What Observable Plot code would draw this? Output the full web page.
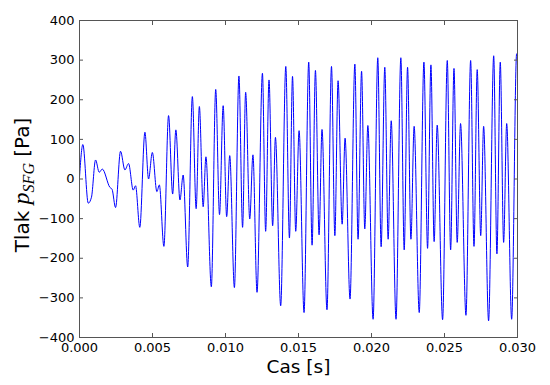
<!DOCTYPE html>
<html>
<head>
<meta charset="utf-8">
<script src="https://cdn.jsdelivr.net/npm/d3@7"></script>
<script src="https://cdn.jsdelivr.net/npm/@observablehq/plot@0.6"></script>
<style>
  html, body { margin: 0; padding: 0; background: #ffffff; }
  #chart svg { font-family: "DejaVu Sans", sans-serif; }
</style>
</head>
<body>
<div id="chart"></div>
<script>
// Time (s) of each turning point of the signal
const time = [
  0.00000, 0.00023, 0.00060, 0.00082, 0.00110, 0.00135, 0.00156, 0.00208, 0.00223, 0.00247,
  0.00281, 0.00311, 0.00336, 0.00368, 0.00384, 0.00413, 0.00448, 0.00473, 0.00499, 0.00530,
  0.00547, 0.00578, 0.00610, 0.00638, 0.00660, 0.00688, 0.00710, 0.00741, 0.00773, 0.00799,
  0.00821, 0.00847, 0.00866, 0.00903, 0.00933, 0.00959, 0.00984, 0.01008, 0.01029, 0.01061,
  0.01092, 0.01117, 0.01138, 0.01166, 0.01188, 0.01216, 0.01253, 0.01275, 0.01298, 0.01323,
  0.01342, 0.01378, 0.01413, 0.01438, 0.01459, 0.01481, 0.01504, 0.01538, 0.01570, 0.01593,
  0.01616, 0.01641, 0.01661, 0.01695, 0.01726, 0.01749, 0.01771, 0.01799, 0.01819, 0.01853,
  0.01886, 0.01908, 0.01932, 0.01954, 0.01975, 0.02011, 0.02043, 0.02066, 0.02091, 0.02114,
  0.02135, 0.02168, 0.02201, 0.02224, 0.02247, 0.02270, 0.02292, 0.02327, 0.02359, 0.02384,
  0.02407, 0.02429, 0.02450, 0.02487, 0.02519, 0.02542, 0.02565, 0.02587, 0.02610, 0.02647,
  0.02679, 0.02702, 0.02724, 0.02748, 0.02768, 0.02802, 0.02837, 0.02859, 0.02882, 0.02905,
  0.02926, 0.02960, 0.02994, 0.03000
];
// Pressure p_SFG (Pa) at those times
const pressure = [
     4,   87,  -61,  -46,   48,   17,   25,  -21,  -26,  -72,
    70,   23,   39,  -28,  -17, -122,  118,    0,   67,  -32,
   -15, -170,  160,  -38,  124,  -53,   10, -222,  208,  -75,
   183,  -70,   56, -272,  226,  -90,  185,  -95,   59, -274,
   260, -122,  219, -101,   61, -286,  267, -132,  250, -118,
   105, -320,  284, -149,  259, -132,  122, -337,  295, -167,
   274, -141,  125, -330,  284, -143,  248, -114,  103, -303,
   290, -152,  272, -126,  135, -354,  306, -171,  282, -152,
   147, -354,  306, -179,  282, -152,  133, -337,  295, -175,
   288, -158,  136, -355,  299, -179,  279, -160,  140, -344,
   299, -170,  276, -143,  133, -358,  311, -189,  295, -160,
   140, -354,  316,  312
];
const xTicks = [0, 0.005, 0.010, 0.015, 0.020, 0.025, 0.030];
const yTicks = [-400, -300, -200, -100, 0, 100, 200, 300, 400];
const xTitle = "Cas [s]";
const yTitle = ["Tlak ", "p", "SFG", " [Pa]"];

const data = time.map((t, i) => ({ t, p: pressure[i] }));
const fmtX = d3.format(".3f");
const fmtY = d => (d < 0 ? "\u2212" + (-d) : String(d));
const axisColor = "#555";

const chart = Plot.plot({
  width: 550,
  height: 385,
  marginLeft: 79,
  marginRight: 33,
  marginTop: 20,
  marginBottom: 48,
  style: { background: "#ffffff", color: "#000", fontFamily: "DejaVu Sans", fontSize: "13px" },
  x: { domain: [0, 0.03] },
  y: { domain: [-400, 400] },
  marks: [
    Plot.line(data, { x: "t", y: "p", stroke: "#0000ff", strokeWidth: 1, curve: "monotone-x" }),
    // inward ticks on all four sides
    Plot.axisX(xTicks, { anchor: "bottom", tickSize: -4, fill: "none", stroke: axisColor, label: null }),
    Plot.axisX(xTicks, { anchor: "top", tickSize: -4, fill: "none", stroke: axisColor, label: null }),
    Plot.axisY(yTicks, { anchor: "left", tickSize: -4, fill: "none", stroke: axisColor, label: null }),
    Plot.axisY(yTicks, { anchor: "right", tickSize: -4, fill: "none", stroke: axisColor, label: null }),
    // tick labels
    Plot.axisX(xTicks, { anchor: "bottom", tickSize: 0, tickPadding: 5, tickFormat: fmtX, label: null, fontSize: 13 }),
    Plot.axisY(yTicks, { anchor: "left", tickSize: 0, tickPadding: 5, tickFormat: fmtY, label: null, fontSize: 13 }),
    Plot.frame({ stroke: axisColor, strokeWidth: 1 }),
    Plot.text([xTitle], { frameAnchor: "bottom", dy: 35, lineAnchor: "bottom", fontSize: 18.5, fill: "#000" })
  ]
});

document.getElementById("chart").appendChild(chart);

// y-axis title with math-style subscript
const svg = d3.select(chart);
const yt = svg.append("text")
  .attr("transform", `translate(29,185) rotate(-90)`)
  .attr("text-anchor", "middle")
  .attr("fill", "#000")
  .style("font-family", "DejaVu Sans")
  .style("font-size", "20px");
yt.append("tspan").text(yTitle[0]);
yt.append("tspan").text(yTitle[1])
  .style("font-family", "Liberation Serif").style("font-style", "italic").style("font-size", "24px");
yt.append("tspan").text(yTitle[2]).attr("dy", 5)
  .style("font-family", "Liberation Serif").style("font-style", "italic").style("font-size", "16px");
yt.append("tspan").text(yTitle[3]).attr("dy", -5);
</script>
</body>
</html>
